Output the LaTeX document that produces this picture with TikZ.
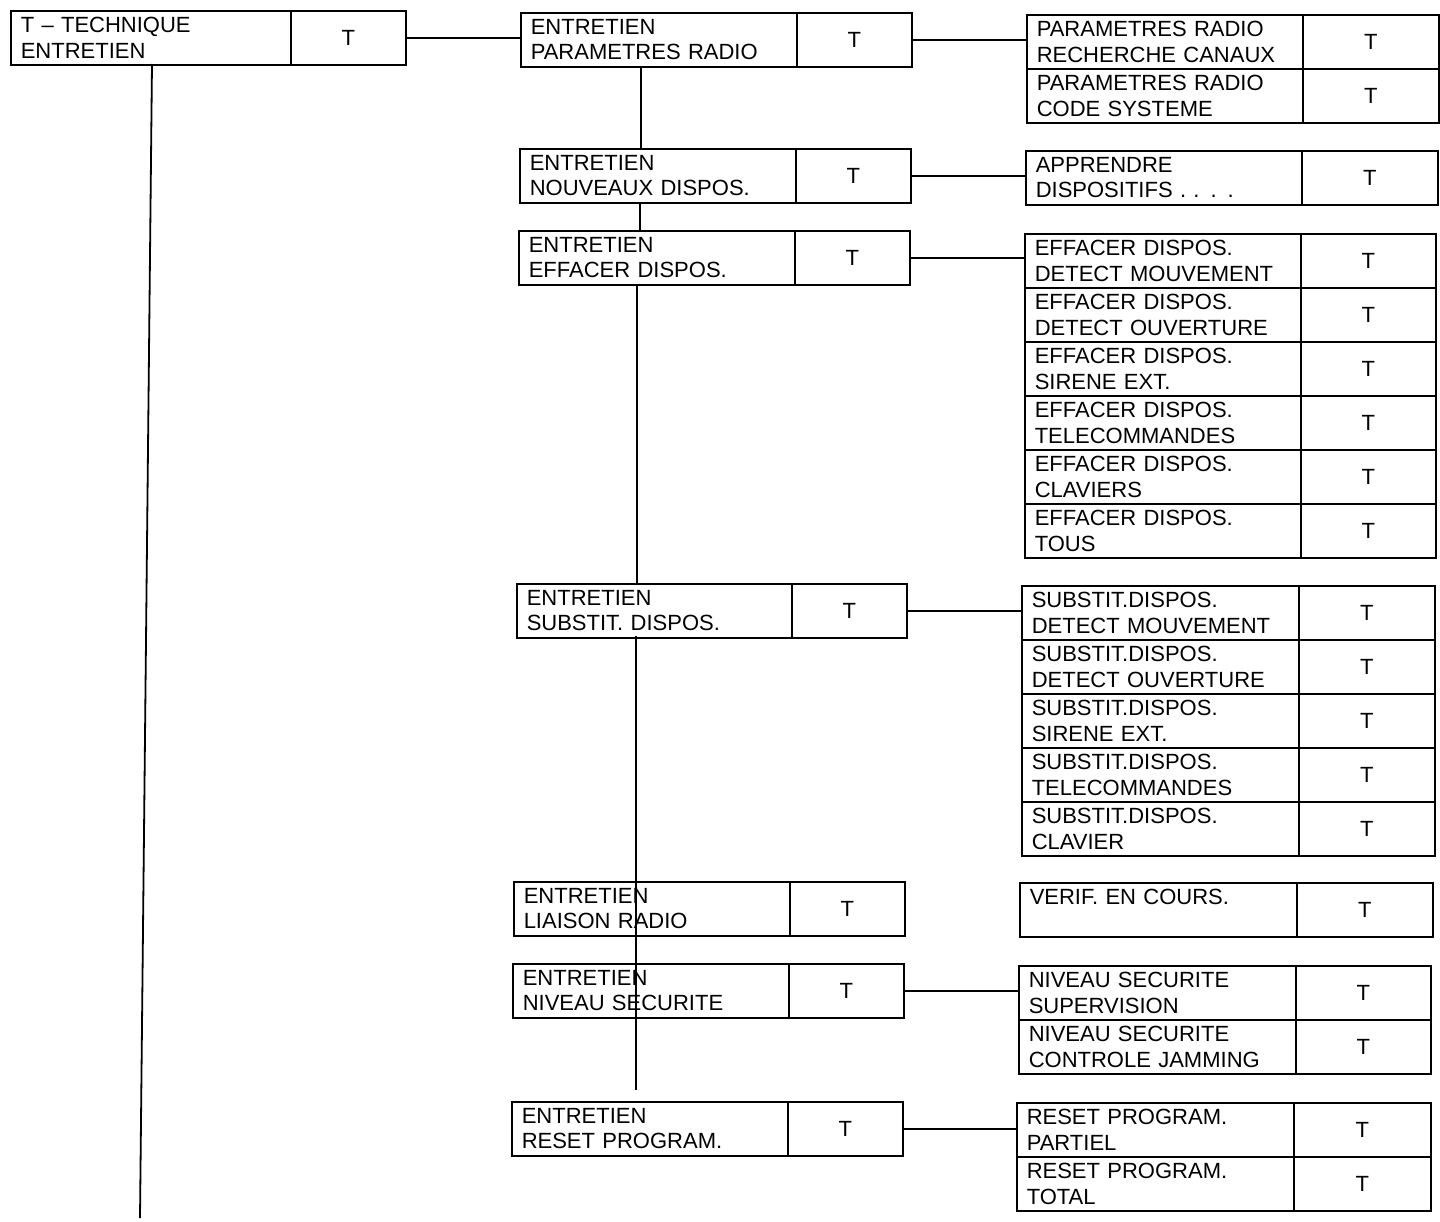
\documentclass[tikz,border=0pt]{standalone}
\usepackage{fontspec}
\setmainfont{Liberation Sans}
\tikzset{
 cell/.style={draw, line width=1.5pt, anchor=north west, minimum height=54pt, inner xsep=10pt, inner ysep=0pt, font=\fontsize{22}{25.5}\selectfont},
 conn/.style={line width=1.8pt}
}
\newcommand\mbx[6]{%
 \node[cell, text width=#4pt-#2pt-20pt, align=left] (#1) at (#2,#3) {#6};
 \node[cell, minimum width=#5pt-#4pt, align=center] (#1t) at (#4,#3) {T};}
\begin{document}
\begin{tikzpicture}[x=1pt,y=-1pt]
\useasboundingbox (0,0) rectangle (1440,1221);
\mbx{r}{10}{10}{290}{405}{T -- TECHNIQUE\\ENTRETIEN}
\mbx{a}{520}{12}{796}{911}{ENTRETIEN\\PARAMETRES RADIO}
\mbx{b}{519}{148}{795}{910}{ENTRETIEN\\NOUVEAUX DISPOS.}
\mbx{c}{518}{230}{794}{909}{ENTRETIEN\\EFFACER DISPOS.}
\mbx{d}{516}{583}{791}{906}{ENTRETIEN\\SUBSTIT. DISPOS.}
\mbx{e}{513}{881}{789}{904}{ENTRETIEN\\LIAISON RADIO}
\mbx{f}{512}{963}{788}{903}{ENTRETIEN\\NIVEAU SECURITE}
\mbx{g}{511}{1101}{787}{902}{ENTRETIEN\\RESET PROGRAM.}
\mbx{a1}{1026}{14}{1302}{1438}{PARAMETRES RADIO\\RECHERCHE CANAUX}
\mbx{a2}{1026}{68}{1302}{1438}{PARAMETRES RADIO\\CODE SYSTEME}
\mbx{b1}{1025}{150}{1301}{1437}{APPRENDRE\\DISPOSITIFS . . . .}
\mbx{c1}{1024}{233}{1300}{1435}{EFFACER DISPOS.\\DETECT MOUVEMENT}
\mbx{c2}{1024}{287}{1300}{1435}{EFFACER DISPOS.\\DETECT OUVERTURE}
\mbx{c3}{1024}{341}{1300}{1435}{EFFACER DISPOS.\\SIRENE EXT.}
\mbx{c4}{1024}{395}{1300}{1435}{EFFACER DISPOS.\\TELECOMMANDES}
\mbx{c5}{1024}{449}{1300}{1435}{EFFACER DISPOS.\\CLAVIERS}
\mbx{c6}{1024}{503}{1300}{1435}{EFFACER DISPOS.\\TOUS}
\mbx{d1}{1021}{585}{1298}{1434}{SUBSTIT.DISPOS.\\DETECT MOUVEMENT}
\mbx{d2}{1021}{639}{1298}{1434}{SUBSTIT.DISPOS.\\DETECT OUVERTURE}
\mbx{d3}{1021}{693}{1298}{1434}{SUBSTIT.DISPOS.\\SIRENE EXT.}
\mbx{d4}{1021}{747}{1298}{1434}{SUBSTIT.DISPOS.\\TELECOMMANDES}
\mbx{d5}{1021}{801}{1298}{1434}{SUBSTIT.DISPOS.\\CLAVIER}
\mbx{e1}{1019}{882}{1296}{1432}{VERIF. EN COURS.\\\mbox{}}
\mbx{f1}{1018}{965}{1295}{1430}{NIVEAU SECURITE\\SUPERVISION}
\mbx{f2}{1018}{1019}{1295}{1430}{NIVEAU SECURITE\\CONTROLE JAMMING}
\mbx{g1}{1016}{1102}{1293}{1430}{RESET PROGRAM.\\PARTIEL}
\mbx{g2}{1016}{1156}{1293}{1430}{RESET PROGRAM.\\TOTAL}
% connectors
\draw[conn] (rt.east) -- (rt.east -| a.west);
\draw[conn] (at.east) -- (at.east -| a1.west);
\draw[conn] (bt.east) -- (bt.east -| b1.west);
\draw[conn] (ct.east) -- (ct.east -| c1.west);
\draw[conn] (dt.east) -- (dt.east -| d1.west);
\draw[conn] (ft.east) -- (ft.east -| f1.west);
\draw[conn] (gt.east) -- (gt.east -| g1.west);
\coordinate (rs) at (152,64);
\coordinate (re) at (140,1218);
\draw[conn] (rs) -- (re);
\draw[conn] (641,66) -- (641,148);
\draw[conn] (640,202) -- (640,230);
\draw[conn] (637,284) -- (637,583);
\coordinate (ds) at (636,636);
\coordinate (de) at (636,1090);
\draw[conn] (ds) -- (de);
\end{tikzpicture}
\end{document}
